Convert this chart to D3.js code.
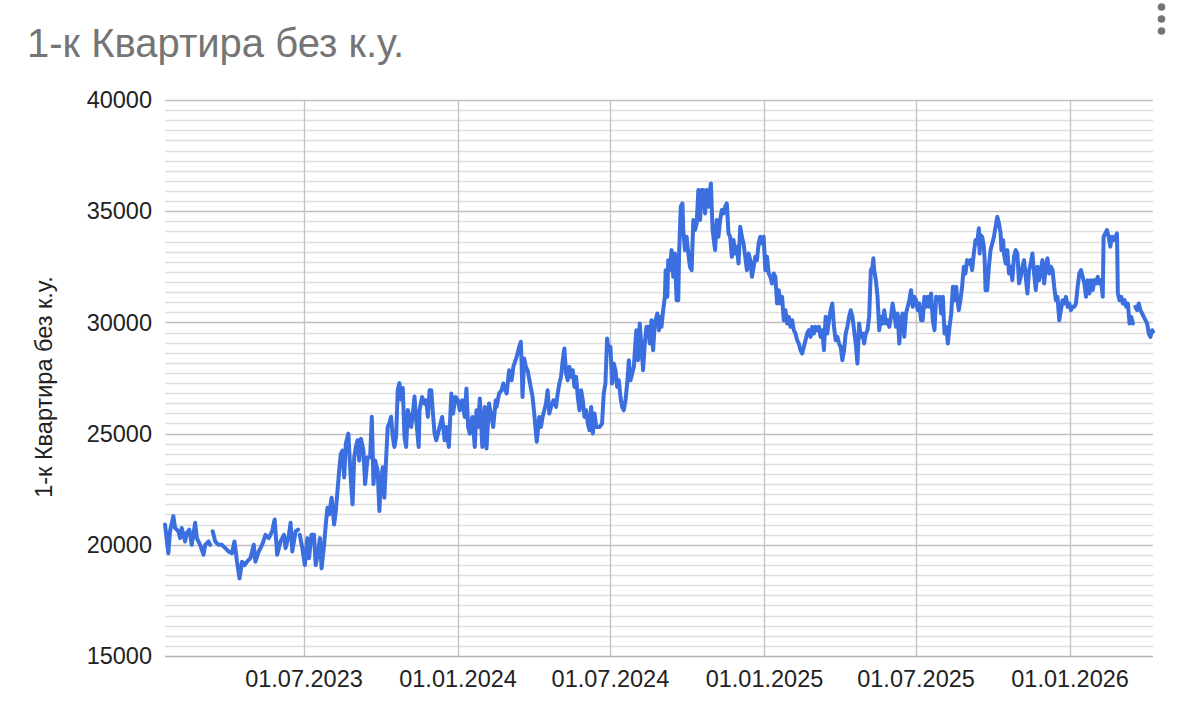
<!DOCTYPE html>
<html>
<head>
<meta charset="utf-8">
<script src="https://cdn.jsdelivr.net/npm/d3@7"></script>
<style>
  html, body { margin: 0; padding: 0; background: #ffffff; }
  svg { display: block; font-family: "Liberation Sans", Arial, sans-serif; }
</style>
</head>
<body>
<svg id="chart" width="1179" height="720"></svg>
<script>
// ---------------- DATA ----------------
const chartTitle = "1-к Квартира без к.у.";
const yAxisTitle = "1-к Квартира без к.у.";
const xTickLabels = ["01.07.2023", "01.01.2024", "01.07.2024", "01.01.2025", "01.07.2025", "01.01.2026"];
const yTickValues = [15000, 20000, 25000, 30000, 35000, 40000];

// dates (one line per month) and matching prices (same grouping); null = gap in the series
const dates = [
  "2023-01-16","2023-01-20","2023-01-22","2023-01-26","2023-01-28",
  "2023-02-01","2023-02-03","2023-02-05","2023-02-09","2023-02-11","2023-02-14","2023-02-17","2023-02-21","2023-02-23","2023-02-27",
  "2023-03-03","2023-03-05","2023-03-09","2023-03-11","2023-03-12","2023-03-14","2023-03-17","2023-03-21","2023-03-25","2023-03-29",
  "2023-04-02","2023-04-06","2023-04-09","2023-04-12","2023-04-15","2023-04-18","2023-04-21","2023-04-24","2023-04-28",
  "2023-05-02","2023-05-04","2023-05-08","2023-05-12","2023-05-16","2023-05-20","2023-05-24","2023-05-27","2023-05-30",
  "2023-06-03","2023-06-07","2023-06-09","2023-06-13","2023-06-15","2023-06-17","2023-06-21","2023-06-24","2023-06-25","2023-06-26","2023-06-29",
  "2023-07-02","2023-07-05","2023-07-07","2023-07-10","2023-07-13","2023-07-15","2023-07-18","2023-07-20","2023-07-22","2023-07-25","2023-07-27","2023-07-29","2023-07-31",
  "2023-08-03","2023-08-06","2023-08-08","2023-08-12","2023-08-14","2023-08-16","2023-08-18","2023-08-20","2023-08-23","2023-08-26","2023-08-28","2023-08-30",
  "2023-09-01","2023-09-03","2023-09-05","2023-09-07","2023-09-10","2023-09-12","2023-09-15","2023-09-18","2023-09-20","2023-09-22","2023-09-24","2023-09-27","2023-09-29",
  "2023-10-01","2023-10-03","2023-10-05","2023-10-07","2023-10-09","2023-10-11","2023-10-13","2023-10-15","2023-10-17","2023-10-19","2023-10-21","2023-10-23","2023-10-25","2023-10-27","2023-10-29","2023-10-31",
  "2023-11-02","2023-11-04","2023-11-06","2023-11-08","2023-11-10","2023-11-12","2023-11-15","2023-11-16","2023-11-19","2023-11-22","2023-11-24","2023-11-26","2023-11-28","2023-11-30",
  "2023-12-02","2023-12-04","2023-12-06","2023-12-10","2023-12-13","2023-12-16","2023-12-18","2023-12-21","2023-12-24","2023-12-26","2023-12-29",
  "2024-01-01","2024-01-03","2024-01-06","2024-01-09","2024-01-11","2024-01-13","2024-01-15","2024-01-18","2024-01-21","2024-01-23","2024-01-25","2024-01-27","2024-01-30",
  "2024-02-02","2024-02-04","2024-02-07","2024-02-10","2024-02-12","2024-02-15","2024-02-16","2024-02-19","2024-02-22","2024-02-24","2024-02-28",
  "2024-03-02","2024-03-05","2024-03-07","2024-03-11","2024-03-14","2024-03-16","2024-03-17","2024-03-18","2024-03-20","2024-03-22","2024-03-24","2024-03-27","2024-03-30",
  "2024-04-01","2024-04-04","2024-04-07","2024-04-09","2024-04-11","2024-04-15","2024-04-17","2024-04-19","2024-04-21","2024-04-24","2024-04-27","2024-04-29",
  "2024-05-01","2024-05-03","2024-05-05","2024-05-07","2024-05-09","2024-05-11","2024-05-13","2024-05-15","2024-05-17","2024-05-19","2024-05-21","2024-05-23","2024-05-25","2024-05-27","2024-05-29","2024-05-31",
  "2024-06-02","2024-06-04","2024-06-06","2024-06-08","2024-06-10","2024-06-12","2024-06-14","2024-06-18","2024-06-21","2024-06-23","2024-06-25","2024-06-27","2024-06-29",
  "2024-07-01","2024-07-03","2024-07-05","2024-07-07","2024-07-09","2024-07-11","2024-07-13","2024-07-15","2024-07-17","2024-07-19","2024-07-21","2024-07-23","2024-07-25","2024-07-27","2024-07-29","2024-07-31",
  "2024-08-01","2024-08-03","2024-08-05","2024-08-07","2024-08-09","2024-08-11","2024-08-13","2024-08-15","2024-08-17","2024-08-19","2024-08-21","2024-08-23","2024-08-26","2024-08-28","2024-08-29","2024-08-31",
  "2024-09-02","2024-09-04","2024-09-05","2024-09-07","2024-09-08","2024-09-10","2024-09-12","2024-09-14","2024-09-16","2024-09-18","2024-09-20","2024-09-21","2024-09-23","2024-09-25","2024-09-26","2024-09-28","2024-09-30",
  "2024-10-02","2024-10-04","2024-10-06","2024-10-08","2024-10-10","2024-10-12","2024-10-14","2024-10-16","2024-10-18","2024-10-20","2024-10-22","2024-10-24","2024-10-26","2024-10-28","2024-10-29","2024-10-31",
  "2024-11-01","2024-11-03","2024-11-05","2024-11-07","2024-11-09","2024-11-11","2024-11-13","2024-11-15","2024-11-17","2024-11-19","2024-11-21","2024-11-23","2024-11-25","2024-11-27","2024-11-29",
  "2024-12-01","2024-12-03","2024-12-05","2024-12-07","2024-12-09","2024-12-11","2024-12-13","2024-12-15","2024-12-17","2024-12-19","2024-12-21","2024-12-23","2024-12-25","2024-12-27","2024-12-29","2024-12-31",
  "2025-01-02","2025-01-04","2025-01-06","2025-01-08","2025-01-10","2025-01-12","2025-01-14","2025-01-16","2025-01-18","2025-01-20","2025-01-22","2025-01-24","2025-01-26","2025-01-28","2025-01-30",
  "2025-02-01","2025-02-03","2025-02-05","2025-02-07","2025-02-09","2025-02-11","2025-02-13","2025-02-15","2025-02-17","2025-02-19","2025-02-21","2025-02-23","2025-02-25","2025-02-27",
  "2025-03-01","2025-03-03","2025-03-05","2025-03-07","2025-03-09","2025-03-11","2025-03-13","2025-03-15","2025-03-17","2025-03-19","2025-03-21","2025-03-23","2025-03-25","2025-03-27","2025-03-29","2025-03-31",
  "2025-04-02","2025-04-04","2025-04-06","2025-04-08","2025-04-10","2025-04-12","2025-04-14","2025-04-16","2025-04-18","2025-04-20","2025-04-22","2025-04-24","2025-04-26","2025-04-28","2025-04-30",
  "2025-05-02","2025-05-04","2025-05-06","2025-05-08","2025-05-10","2025-05-11","2025-05-12","2025-05-14","2025-05-16","2025-05-18","2025-05-20","2025-05-22","2025-05-24","2025-05-26","2025-05-28","2025-05-30",
  "2025-06-01","2025-06-03","2025-06-05","2025-06-07","2025-06-09","2025-06-11","2025-06-13","2025-06-15","2025-06-17","2025-06-19","2025-06-21","2025-06-23","2025-06-25","2025-06-27","2025-06-29",
  "2025-07-01","2025-07-03","2025-07-05","2025-07-07","2025-07-09","2025-07-11","2025-07-13","2025-07-15","2025-07-17","2025-07-19","2025-07-21","2025-07-23","2025-07-25","2025-07-27","2025-07-29","2025-07-31",
  "2025-08-02","2025-08-04","2025-08-06","2025-08-08","2025-08-10","2025-08-12","2025-08-14","2025-08-16","2025-08-18","2025-08-19","2025-08-21","2025-08-23","2025-08-25","2025-08-27","2025-08-29","2025-08-31",
  "2025-09-02","2025-09-04","2025-09-06","2025-09-08","2025-09-10","2025-09-12","2025-09-14","2025-09-15","2025-09-16","2025-09-18","2025-09-20","2025-09-21","2025-09-22","2025-09-24","2025-09-26","2025-09-28","2025-09-30",
  "2025-10-02","2025-10-04","2025-10-06","2025-10-08","2025-10-10","2025-10-11","2025-10-13","2025-10-14","2025-10-16","2025-10-18","2025-10-20","2025-10-22","2025-10-24","2025-10-26","2025-10-28","2025-10-30",
  "2025-11-01","2025-11-03","2025-11-05","2025-11-07","2025-11-09","2025-11-11","2025-11-13","2025-11-15","2025-11-17","2025-11-19","2025-11-21","2025-11-23","2025-11-25","2025-11-27","2025-11-29",
  "2025-12-01","2025-12-03","2025-12-05","2025-12-07","2025-12-09","2025-12-11","2025-12-13","2025-12-15","2025-12-17","2025-12-19","2025-12-21","2025-12-23","2025-12-25","2025-12-27","2025-12-29","2025-12-31",
  "2026-01-02","2026-01-04","2026-01-06","2026-01-08","2026-01-10","2026-01-12","2026-01-14","2026-01-16","2026-01-18","2026-01-20","2026-01-22","2026-01-24","2026-01-26","2026-01-28","2026-01-30",
  "2026-02-01","2026-02-03","2026-02-05","2026-02-07","2026-02-09","2026-02-10","2026-02-12","2026-02-14","2026-02-16","2026-02-18","2026-02-20","2026-02-22","2026-02-24","2026-02-26","2026-02-27",
  "2026-03-01","2026-03-03","2026-03-05","2026-03-07","2026-03-09","2026-03-11","2026-03-13","2026-03-15","2026-03-17","2026-03-18","2026-03-20","2026-03-22","2026-03-24","2026-03-26","2026-03-28","2026-03-30",
  "2026-04-01","2026-04-03","2026-04-05","2026-04-07","2026-04-09","2026-04-10"
];

const prices = [
  20910,19620,20610,21290,20760,
  20610,20300,20760,20150,20530,20680,20000,20990,20300,20000,
  19550,20000,20150,20000,null,20610,20150,20000,20000,19850,
  19700,19620,20150,19240,18490,19240,19090,19240,19400,
  20000,19240,19700,20000,20450,20300,20610,21140,19550,
  20150,20450,19850,20450,20990,19700,20610,20680,null,20450,19850,
  19090,20300,19400,20450,20450,19090,19700,20300,18940,20000,20910,21670,21360,
  22120,20910,21520,23330,24090,24240,23030,24550,25000,22880,21820,23940,
  24400,24700,23790,24770,24240,22730,23940,23940,25760,22730,23790,23330,21520,
  22880,23490,22120,23790,25300,25460,25760,24850,24400,24850,26970,27270,26520,27050,24850,24400,
  26060,25760,25300,25910,26670,25610,24400,26050,26650,26350,26500,25750,26950,26950,
  25900,25000,24700,25300,25750,24700,25300,24400,26800,25900,26650,
  26500,26050,26500,25750,27030,25300,25000,25750,24400,26050,25300,26580,24400,
  26200,24330,26350,25750,25300,26500,26200,26800,26950,27250,26800,
  27850,27400,28000,28450,28900,29130,28000,26650,28380,28000,27850,27250,26650,
  25900,24630,25750,25300,25750,26350,26950,25900,26200,26500,26200,26800,
  27250,27550,28300,28830,27700,27400,28000,27550,27850,27100,27550,26650,26050,26950,26500,25750,
  26050,25450,25150,26200,25000,25900,25300,25300,25450,26800,27250,29280,28750,
  28900,27250,28150,27850,27100,27400,26650,26200,26050,26500,27250,28300,27400,27700,28000,29200,
  29650,28300,29950,28900,27850,29050,29800,29800,29050,30100,28750,29950,30400,29650,30250,29800,
  30550,31150,32350,31150,32800,32350,33250,32050,33100,31000,31000,33100,35200,35350,34150,33250,33850,
  33100,32500,32350,34600,34150,34450,35950,34600,35950,35950,34900,35950,35200,35950,36250,34150,
  33850,33250,34600,33850,34600,35050,34900,35200,35350,34000,33850,32950,33700,33100,33400,
  32650,34300,33850,33550,32950,32350,33100,32800,32050,32500,32950,32800,33550,33850,33550,33850,
  32350,32950,32200,32050,31750,32200,32050,30850,31450,30850,31150,30100,30550,29950,30250,
  29800,30100,29650,29500,29200,29050,28750,28600,28900,29200,29500,29650,29350,29800,
  29500,29800,29650,29800,29350,29650,28750,30250,29500,30100,30550,30850,29800,29200,29350,29050,
  28900,28300,28750,29500,29800,30250,30550,30250,29650,29050,28150,29950,29350,29500,29050,
  29500,29650,30250,32350,32500,32880,32350,31900,31150,29650,30250,29950,30550,29950,30100,29800,
  30250,30850,30400,29800,30400,29050,30100,30400,29350,30400,30700,31000,31450,30700,31150,
  31000,30550,30850,30100,30100,31150,30700,31150,30700,31300,30100,29650,31150,31000,31150,30400,
  31150,29500,29800,29050,29800,30400,31600,31000,31600,31150,30550,31000,31600,32500,32200,32800,
  32650,32800,32350,33100,33700,33550,34230,33100,33930,33850,33400,32800,31450,31450,32500,33250,33550,
  33850,34300,34750,34450,34000,33250,33700,33100,32650,33250,32200,32500,31900,32950,33250,33100,
  31750,32050,32500,32800,32050,31300,32350,32650,33100,32200,31450,32500,31900,32350,32800,
  31750,32500,32880,32200,32500,32350,31600,31000,31150,30100,30550,31000,30850,31150,30700,30850,
  30550,30700,30700,30850,31600,32200,32350,32050,31750,31150,31900,31300,31900,31450,31900,
  31750,32050,31750,31900,31150,33850,34000,34150,33850,33400,33850,33700,33850,34000,31300,
  31000,31150,30850,31000,30700,30850,29950,30250,29950,null,30700,30550,30850,30550,30400,30250,
  30100,29950,29500,29350,29650,29580
];

// ---------------- RENDER ----------------
const svg = d3.select("#chart");
const plot = { left: 165, right: 1153, top: 100, bottom: 656 };

const parseISO = d3.timeParse("%Y-%m-%d");
const parseTick = d3.timeParse("%d.%m.%Y");

const n = Math.min(dates.length, prices.length);
const series = d3.range(n).map(i => ({ date: parseISO(dates[i]), value: prices[i] }));

const x = d3.scaleTime()
  .domain(d3.extent(series, d => d.date))
  .range([plot.left, plot.right]);

const y = d3.scaleLinear()
  .domain([d3.min(yTickValues), d3.max(yTickValues)])
  .range([plot.bottom, plot.top]);

// minor horizontal gridlines (10 between each pair of major lines)
const minorCount = 10;
const minorVals = [];
for (let i = 0; i < yTickValues.length - 1; i++) {
  const a = yTickValues[i], b = yTickValues[i + 1];
  for (let k = 1; k <= minorCount; k++) minorVals.push(a + (b - a) * k / (minorCount + 1));
}

const grid = svg.append("g");
grid.selectAll("line.minor").data(minorVals).enter().append("line")
  .attr("class", "minor")
  .attr("x1", plot.left).attr("x2", plot.right)
  .attr("y1", d => Math.round(y(d)) + 0.5).attr("y2", d => Math.round(y(d)) + 0.5)
  .attr("stroke", "#dedede").attr("stroke-width", 1.4);

grid.selectAll("line.major").data(yTickValues).enter().append("line")
  .attr("class", "major")
  .attr("x1", plot.left).attr("x2", plot.right)
  .attr("y1", d => Math.round(y(d)) + 0.5).attr("y2", d => Math.round(y(d)) + 0.5)
  .attr("stroke", d => d === yTickValues[0] ? "#b3b3b3" : "#bfbfbf").attr("stroke-width", 1.4);

const xTickDates = xTickLabels.map(parseTick);
grid.selectAll("line.vgrid").data(xTickDates).enter().append("line")
  .attr("class", "vgrid")
  .attr("x1", d => Math.round(x(d)) + 0.5).attr("x2", d => Math.round(x(d)) + 0.5)
  .attr("y1", plot.top).attr("y2", plot.bottom)
  .attr("stroke", "#c4c4c4").attr("stroke-width", 1.4);

// data line
const line = d3.line()
  .defined(d => d.value !== null)
  .x(d => x(d.date))
  .y(d => y(d.value));

svg.append("path")
  .datum(series)
  .attr("d", line)
  .attr("fill", "none")
  .attr("stroke", "#3b6fe0")
  .attr("stroke-width", 4)
  .attr("stroke-linejoin", "round")
  .attr("stroke-linecap", "round");

// y tick labels
svg.append("g").selectAll("text").data(yTickValues).enter().append("text")
  .attr("x", 152)
  .attr("y", d => y(d))
  .attr("dy", "0.35em")
  .attr("text-anchor", "end")
  .attr("font-size", 23.5)
  .attr("fill", "#222")
  .text(d => d3.format("d")(d));

// x tick labels
svg.append("g").selectAll("text").data(xTickDates).enter().append("text")
  .attr("x", d => x(d))
  .attr("y", 687)
  .attr("text-anchor", "middle")
  .attr("font-size", 23.5)
  .attr("fill", "#222")
  .text((d, i) => xTickLabels[i]);

// y axis title
svg.append("text")
  .attr("transform", "translate(52," + ((plot.top + plot.bottom) / 2 + 9) + ") rotate(-90)")
  .attr("text-anchor", "middle")
  .attr("font-size", 23.5)
  .attr("fill", "#222")
  .text(yAxisTitle);

// chart title
svg.append("text")
  .attr("x", 27)
  .attr("y", 57)
  .attr("font-size", 40)
  .attr("fill", "#757575")
  .text(chartTitle);

// menu dots (top-right)
svg.append("g").selectAll("circle").data([7, 19, 31]).enter().append("circle")
  .attr("cx", 1161.5).attr("cy", d => d).attr("r", 3.8)
  .attr("fill", "#757575");

if (dates.length !== prices.length) {
  svg.append("text").attr("x", 600).attr("y", 20).attr("fill", "red")
    .text("length mismatch " + dates.length + " vs " + prices.length);
}
</script>
</body>
</html>
